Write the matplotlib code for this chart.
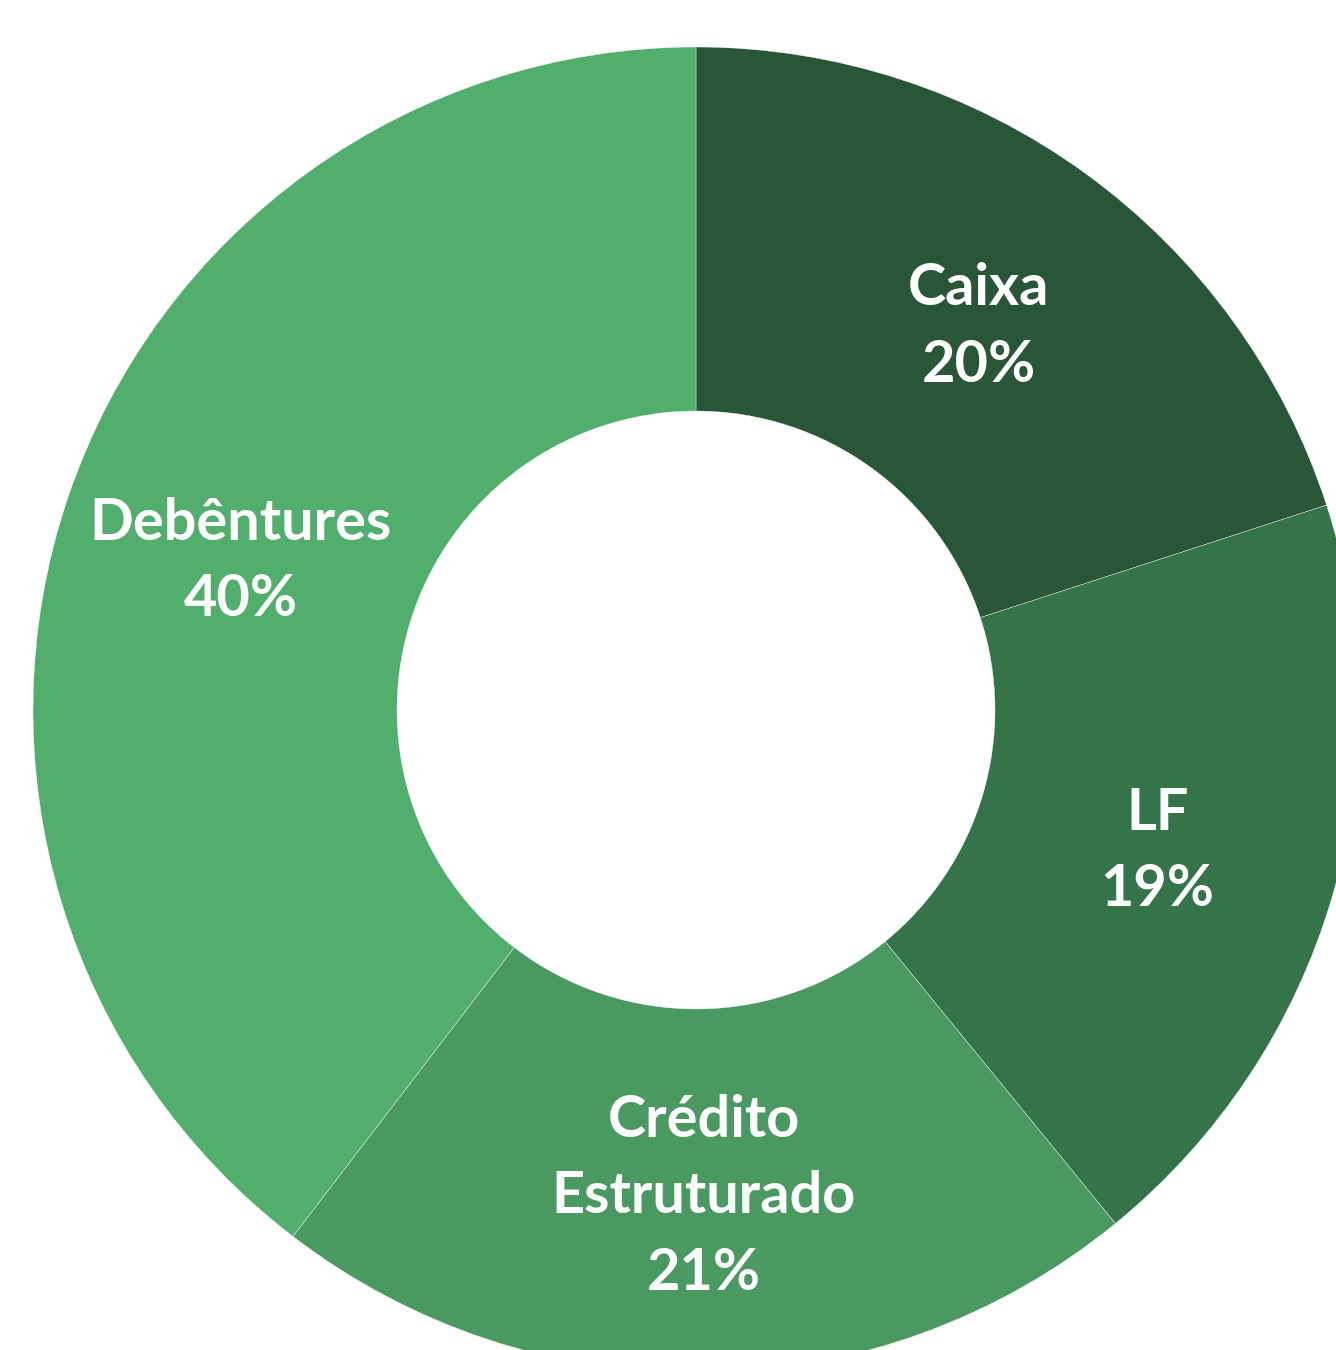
import numpy as np
import matplotlib.pyplot as plt

# Data (clockwise from 12 o'clock)
categories = ['Caixa', 'LF', 'Crédito\nEstruturado', 'Debêntures']
shares = [20.0, 19.1, 21.3, 39.6]
colors = ['#295636', '#357349', '#4a9960', '#52ae6d']

# Geometry in pixel units (figure is 1336 x 1350 px)
W, H = 1336, 1350
cx, cy = 696, 710
r_out, r_in = 663, 299

fig = plt.figure(figsize=(W / 100, H / 100), dpi=100)
ax = fig.add_axes([0, 0, 1, 1])

wedges, _ = ax.pie(shares, colors=colors, startangle=90, counterclock=False,
                   radius=r_out,
                   wedgeprops=dict(width=r_out - r_in, edgecolor='#ffffff',
                                   linewidth=0.25))

# pie() resets the limits, so set the pixel frame afterwards
ax.set_xlim(-cx, W - cx)
ax.set_ylim(-(H - cy), cy)
ax.set_aspect('equal')
ax.axis('off')

# Labels sit halfway across the ring (nudged down a little, as in Excel)
r_lab = (r_out + r_in) / 2
for w, name, val in zip(wedges, categories, shares):
    ang = np.deg2rad((w.theta1 + w.theta2) / 2)
    ax.text(r_lab * np.cos(ang), r_lab * np.sin(ang) - 6,
            f'{name}\n{val:.0f}%', ha='center', va='center',
            color='white', fontsize=41.5, fontweight='bold',
            family='Lato', linespacing=1.55)

fig.savefig('out.png', dpi=100)
